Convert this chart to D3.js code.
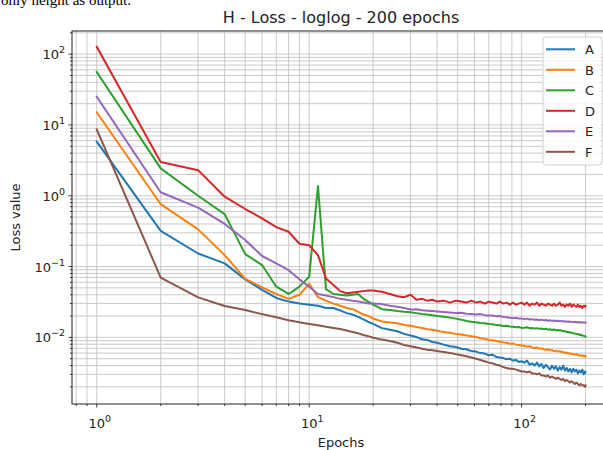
<!DOCTYPE html>
<html>
<head>
<meta charset="utf-8">
<script src="https://cdn.jsdelivr.net/npm/d3@7"></script>
<style>
  body { margin: 0; background: #fff; }
  svg { display: block; }
  text { font-family: "DejaVu Sans", sans-serif; fill: #222; }
</style>
</head>
<body>
<div id="chart"></div>
<script>
// epochs sampled from the 200-epoch run
var epochs = [1,2,3,4,5,6,7,8,9,10,11,12,13,14,15,16,17,18,19,20,
  22,24,26,28,30,32,34,36,38,40,
  43,46,49,52,55,58,61,64,67,70,73,76,79,82,85,88,91,94,97,100,
  103,106,109,112,115,118,121,124,127,130,133,136,139,142,145,148,151,154,157,160,
  163,166,169,172,175,178,181,184,187,190,193,196,199,200];

var lossA = [5.8,0.32,0.153,0.111,0.066,0.047,0.036,0.032,0.030,0.029,0.028,0.026,0.026,0.024,0.022,0.021,0.0195,0.018,0.0165,0.0155,
  0.0135,0.0128,0.0122,0.0112,0.0106,0.0101,0.0094,0.0092,0.0086,0.0084,
  0.0079,0.0075,0.0073,0.0069,0.0068,0.0064,0.0063,0.0060,0.0059,0.0056,0.0057,0.0053,0.0052,0.0051,0.0049,0.0050,0.0047,0.0048,0.0045,0.0046,
  0.0044,0.0047,0.0041,0.0043,0.0040,0.0044,0.0039,0.0042,0.0037,0.0041,0.0038,0.0035,0.0040,0.0036,0.0039,0.0034,0.0038,0.0035,0.0040,0.0034,
  0.0037,0.0033,0.0036,0.0032,0.0036,0.0033,0.0035,0.0031,0.0034,0.0032,0.0035,0.0030,0.0033,0.0032];

var lossB = [15.1,0.76,0.335,0.145,0.067,0.051,0.041,0.035,0.040,0.057,0.037,0.033,0.030,0.028,0.026,0.025,0.023,0.021,0.020,0.0185,
  0.0168,0.0162,0.0158,0.0150,0.0146,0.0140,0.0136,0.0130,0.0128,0.0124,
  0.0119,0.0116,0.0112,0.0110,0.0106,0.0104,0.0101,0.0097,0.0096,0.0092,0.0091,0.0089,0.0087,0.0085,0.0084,0.0081,0.0082,0.0079,0.0078,0.0077,
  0.0076,0.0074,0.0075,0.0072,0.0071,0.0072,0.0069,0.0070,0.0068,0.0067,0.0068,0.0066,0.0066,0.0064,0.0065,0.0063,0.0064,0.0062,0.0062,0.0060,
  0.0061,0.0059,0.0060,0.0058,0.0058,0.0057,0.0058,0.0056,0.0056,0.0055,0.0056,0.0054,0.0055,0.0054];

var lossC = [56,2.44,1.0,0.55,0.150,0.105,0.052,0.041,0.052,0.072,1.37,0.048,0.041,0.040,0.039,0.040,0.041,0.035,0.032,0.029,
  0.0250,0.0244,0.0236,0.0230,0.0226,0.0220,0.0214,0.0210,0.0205,0.0200,
  0.0196,0.0190,0.0184,0.0178,0.0170,0.0166,0.0163,0.0160,0.0158,0.0154,0.0153,0.0149,0.0148,0.0145,0.0146,0.0142,0.0141,0.0139,0.0140,0.0136,
  0.0137,0.0139,0.0135,0.0136,0.0133,0.0135,0.0132,0.0133,0.0130,0.0132,0.0129,0.0130,0.0127,0.0129,0.0126,0.0127,0.0125,0.0126,0.0122,0.0123,
  0.0119,0.0120,0.0116,0.0117,0.0114,0.0113,0.0111,0.0112,0.0108,0.0109,0.0106,0.0105,0.0104,0.0103];

var lossD = [127,3.0,2.3,0.97,0.65,0.48,0.36,0.31,0.21,0.20,0.145,0.068,0.055,0.045,0.042,0.043,0.044,0.045,0.046,0.046,
  0.044,0.041,0.038,0.037,0.040,0.034,0.035,0.033,0.034,0.032,
  0.033,0.031,0.033,0.032,0.031,0.033,0.031,0.032,0.030,0.032,0.031,0.030,0.032,0.030,0.031,0.029,0.031,0.029,0.030,0.031,
  0.029,0.031,0.028,0.030,0.029,0.031,0.028,0.030,0.029,0.028,0.030,0.029,0.028,0.030,0.028,0.029,0.031,0.028,0.029,0.027,
  0.029,0.028,0.030,0.027,0.029,0.028,0.027,0.029,0.027,0.028,0.026,0.028,0.027,0.028];

var lossE = [25,1.12,0.68,0.40,0.237,0.141,0.111,0.089,0.066,0.052,0.041,0.039,0.037,0.035,0.034,0.033,0.032,0.031,0.030,0.030,
  0.0295,0.028,0.027,0.026,0.0248,0.0250,0.0242,0.0238,0.0235,0.0232,
  0.0228,0.0225,0.0221,0.0223,0.0215,0.0214,0.0211,0.0213,0.0206,0.0204,0.0203,0.0198,0.0200,0.0194,0.0193,0.0189,0.0187,0.0189,0.0184,0.0185,
  0.0181,0.0184,0.0179,0.0181,0.0177,0.0179,0.0175,0.0178,0.0174,0.0176,0.0172,0.0174,0.0171,0.0173,0.0170,0.0172,0.0169,0.0171,0.0167,0.0169,
  0.0166,0.0168,0.0165,0.0167,0.0164,0.0166,0.0163,0.0165,0.0162,0.0164,0.0162,0.0163,0.0161,0.0162];

var lossF = [8.65,0.070,0.0367,0.0277,0.0243,0.0213,0.0192,0.0175,0.0163,0.0155,0.0148,0.0141,0.0136,0.0131,0.0125,0.0119,0.0114,0.0108,0.0104,0.0099,
  0.0093,0.0089,0.0084,0.0078,0.0075,0.0072,0.0069,0.0067,0.0066,0.0064,
  0.0062,0.0060,0.0058,0.0056,0.0054,0.0052,0.0050,0.0048,0.0046,0.0044,0.0043,0.0041,0.0040,0.0038,0.0037,0.0036,0.0036,0.0035,0.0034,0.0033,
  0.0033,0.0032,0.0033,0.0031,0.0031,0.0030,0.0031,0.0029,0.0029,0.0028,0.0029,0.0027,0.0028,0.0027,0.0026,0.0027,0.0026,0.0025,0.0026,0.0024,
  0.0025,0.0024,0.0023,0.0024,0.0023,0.0022,0.0023,0.0022,0.0021,0.0022,0.0021,0.0021,0.0020,0.0021];

var names = ["A","B","C","D","E","F"];
var losses = [lossA, lossB, lossC, lossD, lossE, lossF];
var colors = ["#1f77b4","#ff7f0e","#2ca02c","#d62728","#9467bd","#8c564b"];

var width = 603, height = 450;
var pLeft = 72, pRight = 610, pTop = 31, pBottom = 404;

var svg = d3.select("#chart").append("svg")
    .attr("width", width)
    .attr("height", height);

svg.append("rect").attr("width", width).attr("height", height).attr("fill", "#fff");

// leftover caption text from the page above the figure
svg.append("text")
    .attr("x", 1).attr("y", 5)
    .style("font-family", "'Liberation Serif', serif")
    .style("font-size", "15px")
    .style("fill", "#000")
    .text("only height as output.");

var x = d3.scaleLog()
    .domain([Math.pow(10, -0.1165), Math.pow(10, 2.416)])
    .range([pLeft, pRight]);

var y = d3.scaleLog()
    .domain([Math.pow(10, -2.941), Math.pow(10, 2.327)])
    .range([pBottom, pTop]);

function isMajor(v) { return Math.abs(Math.log10(v) - Math.round(Math.log10(v))) < 1e-9; }

var xt = x.ticks(), yt = y.ticks();

// grid (major + minor)
var grid = svg.append("g").attr("stroke", "#c4c4c4").attr("stroke-width", 0.9);
grid.selectAll(".gx").data(xt).enter().append("line")
    .attr("x1", d => x(d)).attr("x2", d => x(d))
    .attr("y1", pTop).attr("y2", pBottom);
grid.selectAll(".gy").data(yt).enter().append("line")
    .attr("x1", pLeft).attr("x2", pRight)
    .attr("y1", d => y(d)).attr("y2", d => y(d));

// lines
svg.append("clipPath").attr("id", "clip").append("rect")
    .attr("x", pLeft).attr("y", pTop).attr("width", pRight - pLeft).attr("height", pBottom - pTop);

var line = d3.line()
    .x(d => x(d[0]))
    .y(d => y(d[1]));

var series = names.map(function(n, i) {
  return { name: n, color: colors[i], values: epochs.map(function(e, j) { return [e, losses[i][j]]; }) };
});

svg.append("g").attr("clip-path", "url(#clip)")
  .selectAll("path").data(series).enter().append("path")
    .attr("d", d => line(d.values))
    .attr("fill", "none")
    .attr("stroke", d => d.color)
    .attr("stroke-width", 2)
    .attr("stroke-linejoin", "round")
    .attr("stroke-linecap", "square");

// frame
svg.append("rect")
    .attr("x", pLeft).attr("y", pTop).attr("width", pRight - pLeft).attr("height", pBottom - pTop)
    .attr("fill", "none").attr("stroke", "#222").attr("stroke-width", 1);

// ticks
var ticks = svg.append("g").attr("stroke", "#222").attr("stroke-width", 0.9);
ticks.selectAll(".tx").data(xt).enter().append("line")
    .attr("x1", d => x(d)).attr("x2", d => x(d))
    .attr("y1", pBottom).attr("y2", d => pBottom + (isMajor(d) ? 3.5 : 2));
ticks.selectAll(".ty").data(yt).enter().append("line")
    .attr("y1", d => y(d)).attr("y2", d => y(d))
    .attr("x1", pLeft).attr("x2", d => pLeft - (isMajor(d) ? 3.5 : 2));

function powLabel(sel) {
  sel.append("tspan").text("10");
  sel.append("tspan")
    .attr("dy", -6)
    .style("font-size", "9.5px")
    .text(d => { var k = Math.round(Math.log10(d)); return k < 0 ? "\u2212" + (-k) : String(k); });
}

svg.selectAll(".xl").data(xt.filter(isMajor)).enter().append("text")
    .attr("x", d => x(d) + 3)
    .attr("y", 428)
    .attr("text-anchor", "middle")
    .style("font-size", "13px")
    .call(powLabel);

svg.selectAll(".yl").data(yt.filter(isMajor)).enter().append("text")
    .attr("x", 65)
    .attr("y", d => y(d) + 5)
    .attr("text-anchor", "end")
    .style("font-size", "13px")
    .call(powLabel);

// titles
svg.append("text")
    .attr("x", (pLeft + pRight) / 2).attr("y", 23)
    .attr("text-anchor", "middle")
    .style("font-size", "16px")
    .text("H - Loss - loglog - 200 epochs");

svg.append("text")
    .attr("x", (pLeft + pRight) / 2).attr("y", 447)
    .attr("text-anchor", "middle")
    .style("font-size", "13px")
    .text("Epochs");

svg.append("text")
    .attr("transform", "translate(20," + (pTop + pBottom) / 2 + ") rotate(-90)")
    .attr("text-anchor", "middle")
    .style("font-size", "13px")
    .text("Loss value");

// legend
var lg = svg.append("g").attr("transform", "translate(543,37)");
lg.append("rect")
    .attr("width", 59).attr("height", 128)
    .attr("rx", 3)
    .attr("fill", "#fff").attr("fill-opacity", 0.85)
    .attr("stroke", "#d0d0d0");
var item = lg.selectAll(".item").data(series).enter().append("g")
    .attr("transform", (d, i) => "translate(0," + (12.3 + i * 20.5) + ")");
item.append("line")
    .attr("x1", 3).attr("x2", 32)
    .attr("stroke", d => d.color).attr("stroke-width", 2);
item.append("text")
    .attr("x", 42).attr("y", 5)
    .style("font-size", "13px")
    .text(d => d.name);
</script>
</body>
</html>
